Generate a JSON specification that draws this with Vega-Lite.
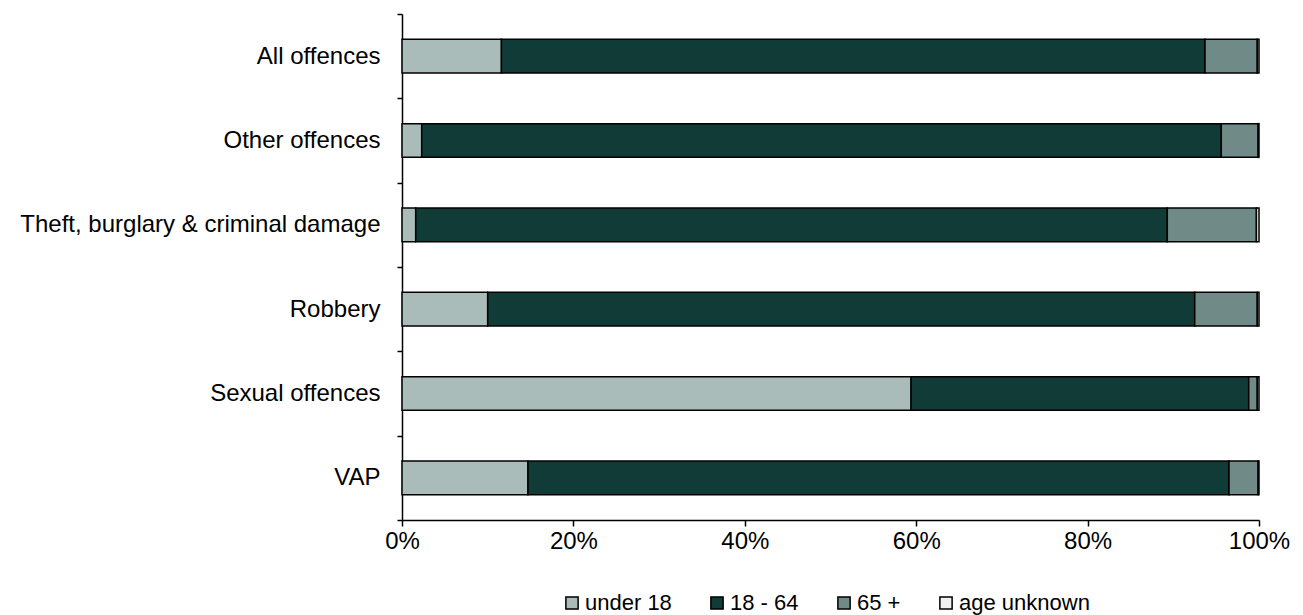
{
  "$schema": "https://vega.github.io/schema/vega-lite/v6.json",
  "width": 857,
  "height": 506,
  "autosize": {"type": "none"},
  "padding": {"left": 402, "top": 14, "right": 44, "bottom": 95},
  "background": "white",
  "config": {
    "view": {"stroke": null},
    "font": "Liberation Sans",
    "axis": {"labelFont": "Liberation Sans", "labelColor": "black", "domainColor": "black", "tickColor": "black", "domainWidth": 1.5, "tickWidth": 1.5, "grid": false, "title": null},
    "legend": {"labelFont": "Liberation Sans"}
  },
  "data": {
    "values": [
      {"offence": "All offences", "age": "under 18", "ord": 1, "pct": 11.6},
      {"offence": "All offences", "age": "18 - 64", "ord": 2, "pct": 82.1},
      {"offence": "All offences", "age": "65 +", "ord": 3, "pct": 6.1},
      {"offence": "All offences", "age": "age unknown", "ord": 4, "pct": 0.2},
      {"offence": "Other offences", "age": "under 18", "ord": 1, "pct": 2.3},
      {"offence": "Other offences", "age": "18 - 64", "ord": 2, "pct": 93.3},
      {"offence": "Other offences", "age": "65 +", "ord": 3, "pct": 4.3},
      {"offence": "Other offences", "age": "age unknown", "ord": 4, "pct": 0.1},
      {"offence": "Theft, burglary & criminal damage", "age": "under 18", "ord": 1, "pct": 1.6},
      {"offence": "Theft, burglary & criminal damage", "age": "18 - 64", "ord": 2, "pct": 87.7},
      {"offence": "Theft, burglary & criminal damage", "age": "65 +", "ord": 3, "pct": 10.4},
      {"offence": "Theft, burglary & criminal damage", "age": "age unknown", "ord": 4, "pct": 0.3},
      {"offence": "Robbery", "age": "under 18", "ord": 1, "pct": 10.0},
      {"offence": "Robbery", "age": "18 - 64", "ord": 2, "pct": 82.5},
      {"offence": "Robbery", "age": "65 +", "ord": 3, "pct": 7.3},
      {"offence": "Robbery", "age": "age unknown", "ord": 4, "pct": 0.2},
      {"offence": "Sexual offences", "age": "under 18", "ord": 1, "pct": 59.4},
      {"offence": "Sexual offences", "age": "18 - 64", "ord": 2, "pct": 39.4},
      {"offence": "Sexual offences", "age": "65 +", "ord": 3, "pct": 1.0},
      {"offence": "Sexual offences", "age": "age unknown", "ord": 4, "pct": 0.2},
      {"offence": "VAP", "age": "under 18", "ord": 1, "pct": 14.7},
      {"offence": "VAP", "age": "18 - 64", "ord": 2, "pct": 81.8},
      {"offence": "VAP", "age": "65 +", "ord": 3, "pct": 3.4},
      {"offence": "VAP", "age": "age unknown", "ord": 4, "pct": 0.1}
    ]
  },
  "mark": {"type": "bar", "stroke": "black", "strokeWidth": 1.5, "height": {"band": 0.4}},
  "encoding": {
    "y": {
      "field": "offence", "type": "nominal",
      "sort": ["All offences", "Other offences", "Theft, burglary & criminal damage", "Robbery", "Sexual offences", "VAP"],
      "scale": {"paddingInner": 0, "paddingOuter": 0},
      "axis": {"tickBand": "extent", "labelFontSize": 24, "tickSize": 5, "labelPadding": 17, "labelLimit": 450}
    },
    "x": {
      "field": "pct", "type": "quantitative", "stack": "zero",
      "scale": {"domain": [0, 100], "nice": false},
      "axis": {"values": [0, 20, 40, 60, 80, 100], "labelExpr": "datum.value + '%'", "labelFontSize": 24, "tickSize": 6, "labelPadding": 3, "labelFlush": false}
    },
    "order": {"field": "ord", "type": "quantitative"},
    "fill": {
      "field": "age", "type": "nominal",
      "scale": {"domain": ["under 18", "18 - 64", "65 +", "age unknown"], "range": ["#a9bcb9", "#113b36", "#6f8a87", "#eef1f0"]},
      "legend": {"orient": "none", "legendX": 159, "legendY": 578, "direction": "horizontal", "title": null, "symbolType": "square", "symbolSize": 150, "symbolStrokeColor": "black", "symbolStrokeWidth": 1.5, "labelFontSize": 22, "labelColor": "black", "columnPadding": 34, "labelOffset": 2}
    }
  }
}
